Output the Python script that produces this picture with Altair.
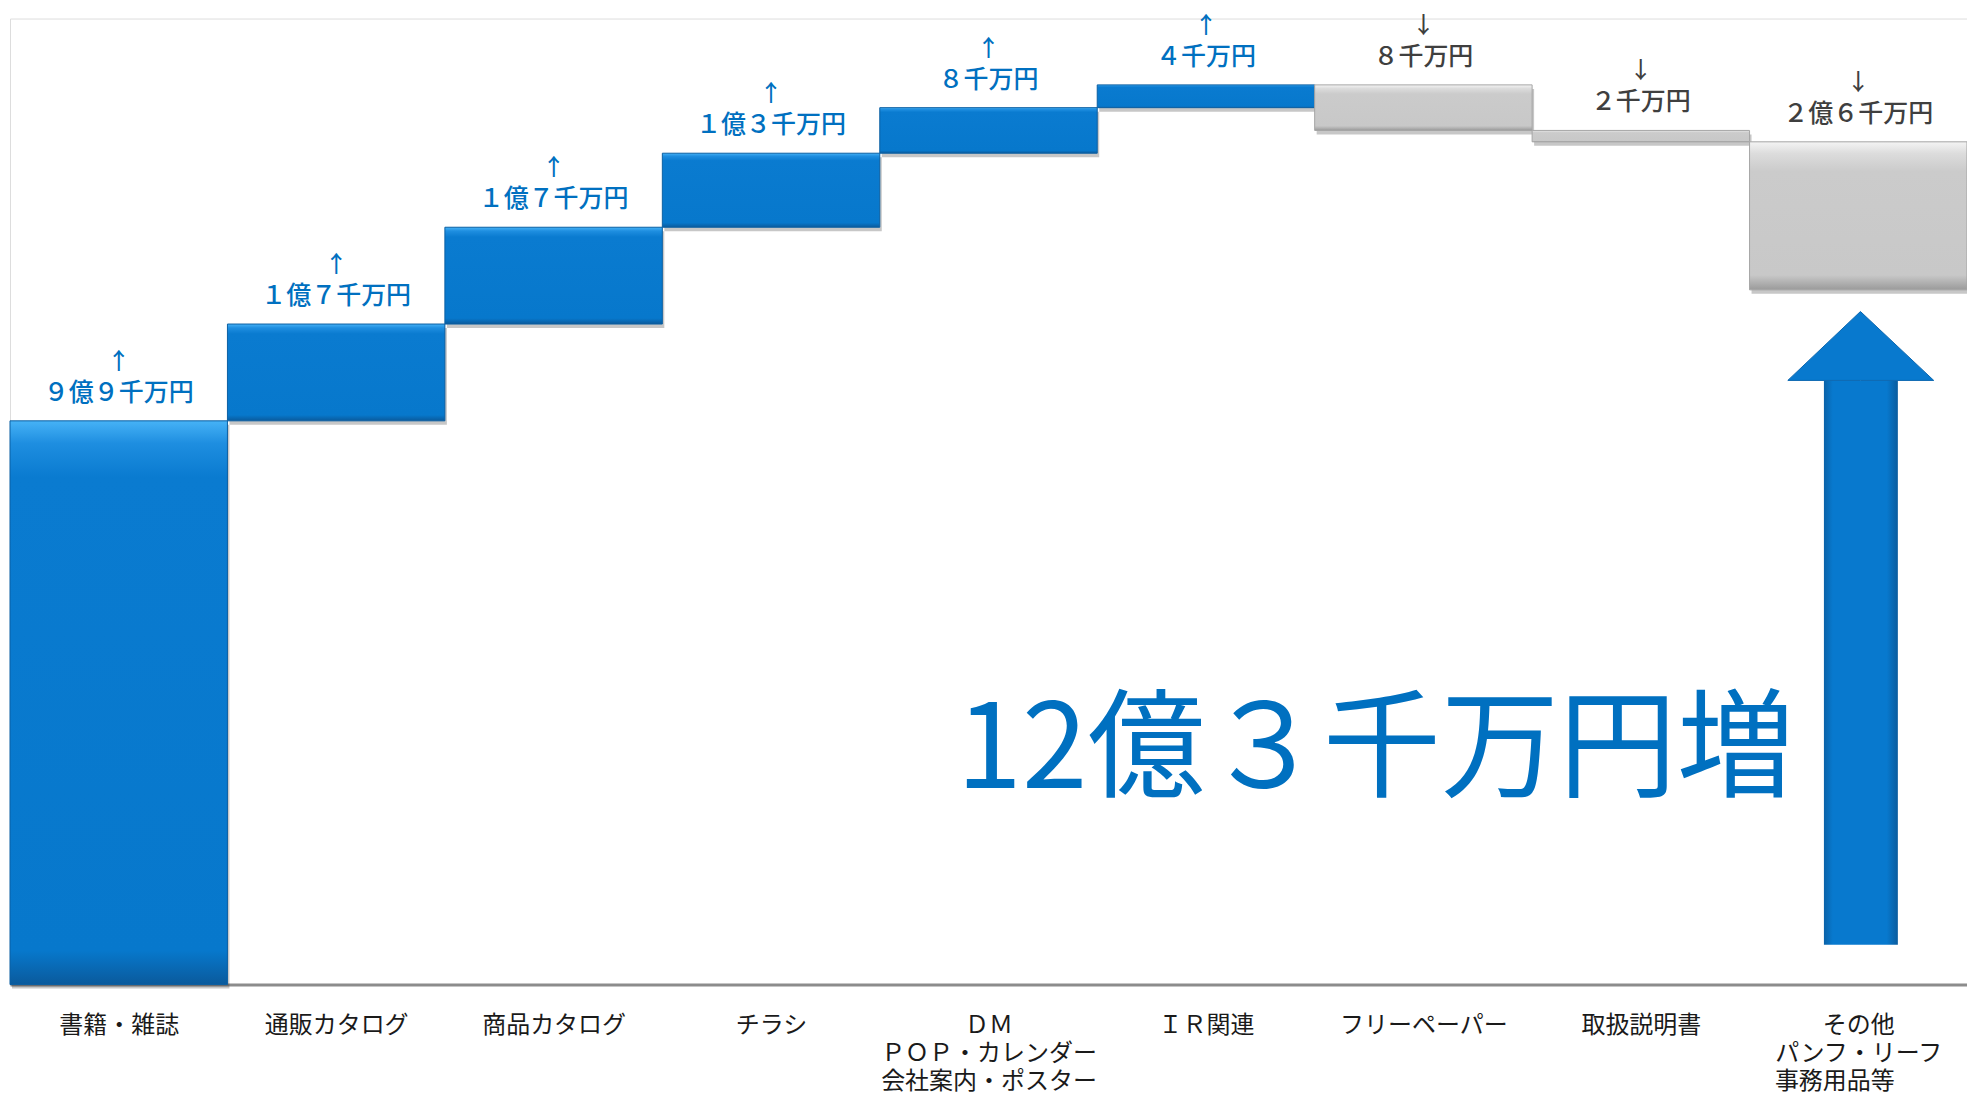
import json
import altair as alt
import pandas as pd

# ---- data ----
categories = [
    "書籍・雑誌",
    "通販カタログ",
    "商品カタログ",
    "チラシ",
    "ＤＭ\nＰＯＰ・カレンダー\n会社案内・ポスター",
    "ＩＲ関連",
    "フリーペーパー",
    "取扱説明書",
    "その他\nパンフ・リーフ\n事務用品等　　\u2060",
]
changes = [9.9, 1.7, 1.7, 1.3, 0.8, 0.4, -0.8, -0.2, -2.6]  # 億円
value_labels = ["９億９千万円", "１億７千万円", "１億７千万円", "１億３千万円",
                "８千万円", "４千万円", "８千万円", "２千万円", "２億６千万円"]
total_label = "12億３千万円増"

# annotation (big arrow, in data units)
arrow_x = [8.176, 8.51, 8.847]
arrow_head_base = 10.61
arrow_tip = 11.82
arrow_shaft = [8.342, 8.682]
arrow_bottom = 0.70
total_pos = (6.28, 4.07)

# ---- build waterfall table ----
rows = []
cum = 0.0
for i, (c, v, lab) in enumerate(zip(categories, changes, value_labels)):
    start, end = cum, cum + v
    cum = end
    rows.append(dict(i=i, x0=i, x1=i + 1, start=start, end=end,
                     top=max(start, end), low=min(start, end),
                     dir="up" if v >= 0 else "down", label=lab,
                     arrow="↑" if v >= 0 else "↓"))
df = pd.DataFrame(rows)

FONT = "Noto Sans CJK JP"
xscale = alt.Scale(domain=[0, 9], nice=False, zero=False)
yscale = alt.Scale(domain=[0, 16.965], nice=False, zero=True)
label_lines = [c.split("\n") for c in categories]
xaxis = alt.Axis(values=[i + 0.5 for i in range(9)],
                 labelExpr=json.dumps(label_lines, ensure_ascii=False) + "[floor(datum.value)]",
                 title=None, grid=False, ticks=False, domain=True,
                 domainColor="#8C8C8C", domainWidth=3,
                 labelFont=FONT, labelFontSize=24, labelColor="#1A1A1A",
                 labelLineHeight=28, labelPadding=29, labelAlign="center",
                 labelBaseline="top", labelLimit=0, labelOverlap=False)
X = lambda f: alt.X(f"{f}:Q", scale=xscale, axis=xaxis)
Y = lambda f: alt.Y(f"{f}:Q", scale=yscale, axis=None)

base = alt.Chart(df)

blue_grad = alt.Gradient(gradient="linear", x1=0, y1=0, x2=0, y2=1, stops=[
    alt.GradientStop(color="#46B2F6", offset=0),
    alt.GradientStop(color="#1E8EE0", offset=0.04),
    alt.GradientStop(color="#0A7BD0", offset=0.10),
    alt.GradientStop(color="#0778CC", offset=0.94),
    alt.GradientStop(color="#0A5A9C", offset=1),
])
gray_grad = alt.Gradient(gradient="linear", x1=0, y1=0, x2=0, y2=1, stops=[
    alt.GradientStop(color="#F4F4F4", offset=0),
    alt.GradientStop(color="#DCDCDC", offset=0.08),
    alt.GradientStop(color="#CBCBCB", offset=0.2),
    alt.GradientStop(color="#C8C8C8", offset=0.9),
    alt.GradientStop(color="#9A9A9A", offset=1),
])

shadow = base.mark_rect(color="#000000", opacity=0.22, xOffset=2, yOffset=4, x2Offset=2, y2Offset=4).encode(
    x=X("x0"), x2="x1", y=Y("low"), y2="top")
bars_up = base.transform_filter("datum.dir == 'up'").mark_rect(
    color=blue_grad, stroke="#0B5FA3", strokeWidth=1).encode(
    x=X("x0"), x2="x1", y=Y("low"), y2="top")
bars_down = base.transform_filter("datum.dir == 'down'").mark_rect(
    color=gray_grad, stroke="#A5A5A5", strokeWidth=1).encode(
    x=X("x0"), x2="x1", y=Y("low"), y2="top")

color_enc = alt.Color("dir:N", scale=alt.Scale(domain=["up", "down"], range=["#0070C0", "#3F3F3F"]), legend=None)
labels = base.transform_calculate(xc="datum.x0 + 0.5").mark_text(
    font=FONT, fontSize=25, fontWeight=500, dy=-28, baseline="middle", align="center").encode(
    x=X("xc"), y=Y("top"), text="label:N", color=color_enc)
arrows = base.transform_calculate(xc="datum.x0 + 0.5").mark_text(
    font=FONT, fontSize=23, fontWeight=500, dy=-59, baseline="middle", align="center").encode(
    x=X("xc"), y=Y("top"), text="arrow:N", color=color_enc)

# big arrow
shaft_df = pd.DataFrame([dict(x0=arrow_shaft[0], x1=arrow_shaft[1], y0=arrow_bottom, y1=arrow_head_base)])
shaft_grad = alt.Gradient(gradient="linear", x1=0, y1=0, x2=1, y2=0, stops=[
    alt.GradientStop(color="#0A62A8", offset=0),
    alt.GradientStop(color="#0879CE", offset=0.12),
    alt.GradientStop(color="#0879CE", offset=0.85),
    alt.GradientStop(color="#0A5C9E", offset=1),
])
shaft = alt.Chart(shaft_df).mark_rect(color=shaft_grad).encode(
    x=X("x0"), x2="x1", y=Y("y0"), y2="y1")
head_df = pd.DataFrame(dict(x=arrow_x, y=[arrow_head_base, arrow_tip, arrow_head_base],
                            y2=[arrow_head_base] * 3))
head = alt.Chart(head_df).mark_area(color="#0879CE", stroke="#0A66B0", strokeWidth=1).encode(
    x=X("x"), y=Y("y"), y2="y2")

total_df = pd.DataFrame([dict(x=total_pos[0], y=total_pos[1], t=total_label)])
total = alt.Chart(total_df).mark_text(font=FONT, fontSize=118, color="#0070C0",
                                      align="center", baseline="middle").encode(
    x=X("x"), y=Y("y"), text="t:N")

chart = alt.layer(shadow, bars_up, bars_down, labels, arrows, shaft, head, total).properties(
    width=1959, height=967,
    autosize=alt.AutoSizeParams(type="none"),
    padding={"left": 2, "right": 0, "top": 10, "bottom": 110},
).configure_view(stroke=None).configure(background="white")

chart.save("out.html", embed_options={"renderer": "svg", "actions": False})
